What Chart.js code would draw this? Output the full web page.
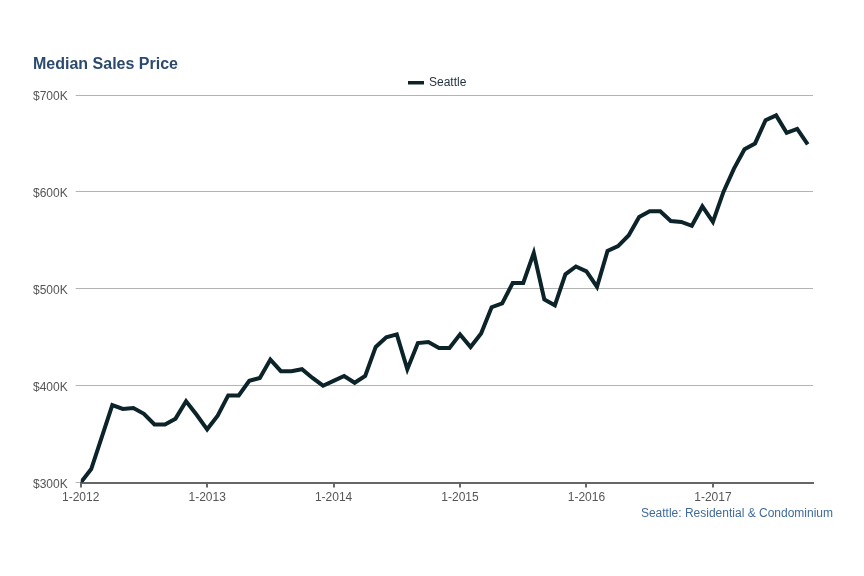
<!DOCTYPE html>
<html>
<head>
<meta charset="utf-8">
<script src="https://cdn.jsdelivr.net/npm/chart.js@4"></script>
<style>
  body { margin: 0; background: #fff; }
</style>
</head>
<body>
<canvas id="price_chart" width="864" height="576"></canvas>
<script>
// median sales price, $K, monthly from 1-2012
const prices = [
  300, 314, 347, 380, 376, 377, 371, 360, 360, 366, 384, 370,
  355, 369, 390, 390, 405, 408, 427, 415, 415, 417, 408, 400,
  405, 410, 403, 410, 440, 450, 453, 417, 444, 445, 439, 439,
  453, 440, 454, 481, 485, 506, 506, 537, 489, 483, 515, 523,
  518, 502, 539, 544, 555, 574, 580, 580, 570, 569, 565, 585,
  569, 600, 624, 644, 650, 674, 679, 661, 665, 649
];
const startYear = 2012;
const tickMonths = [0, 12, 24, 36, 48, 60];
const yTicks = [300, 400, 500, 600, 700];
const seriesName = 'Seattle';
const titleText = 'Median Sales Price';
const footerText = 'Seattle: Residential & Condominium';

const font = '"Liberation Sans", Arial, Helvetica, sans-serif';
const lineColor = '#0b2329';

const points = prices.map((p, i) => ({ x: i, y: p }));

// title, legend and source line
const decorations = {
  id: 'decorations',
  afterDraw(chart) {
    const c = chart.ctx;
    c.save();
    c.font = 'bold 16px ' + font;
    c.fillStyle = '#2b4a6d';
    c.textAlign = 'left';
    c.textBaseline = 'alphabetic';
    c.fillText(titleText, 33, 69);

    c.fillStyle = lineColor;
    c.fillRect(408, 81, 16, 3.5);
    c.font = '12px ' + font;
    c.fillStyle = '#1f2f3f';
    c.textBaseline = 'middle';
    c.fillText(seriesName, 429, 83);

    c.font = '12px ' + font;
    c.fillStyle = '#3f6b9c';
    c.textAlign = 'right';
    c.textBaseline = 'alphabetic';
    c.fillText(footerText, 833, 517);
    c.restore();
  }
};

new Chart(document.getElementById('price_chart'), {
  type: 'line',
  data: {
    datasets: [{
      label: seriesName,
      data: points,
      borderColor: lineColor,
      backgroundColor: lineColor,
      borderWidth: 4,
      pointRadius: 0,
      tension: 0,
      fill: false
    }]
  },
  options: {
    responsive: false,
    animation: false,
    layout: { padding: { left: 25, right: 51, top: 95, bottom: 68 } },
    plugins: {
      legend: { display: false },
      title: { display: false },
      tooltip: { enabled: false }
    },
    scales: {
      x: {
        type: 'linear',
        min: 0,
        max: 69.5,
        afterBuildTicks: (axis) => { axis.ticks = tickMonths.map(v => ({ value: v })); },
        ticks: {
          color: '#555',
          font: { family: font, size: 12 },
          padding: 3,
          maxRotation: 0,
          callback: (v) => '1-' + (startYear + v / 12)
        },
        grid: { drawOnChartArea: false, tickLength: 5, color: '#666', lineWidth: 2 },
        border: { color: '#666', width: 2 }
      },
      y: {
        min: 300,
        max: 700,
        afterBuildTicks: (axis) => { axis.ticks = yTicks.map(v => ({ value: v })); },
        ticks: {
          color: '#555',
          font: { family: font, size: 12 },
          padding: 8,
          labelOffset: 2,
          callback: (v) => '$' + v + 'K'
        },
        grid: { color: '#b3b3b3', lineWidth: 1, tickLength: 5 },
        border: { display: false }
      }
    }
  },
  plugins: [decorations]
});
</script>
</body>
</html>
